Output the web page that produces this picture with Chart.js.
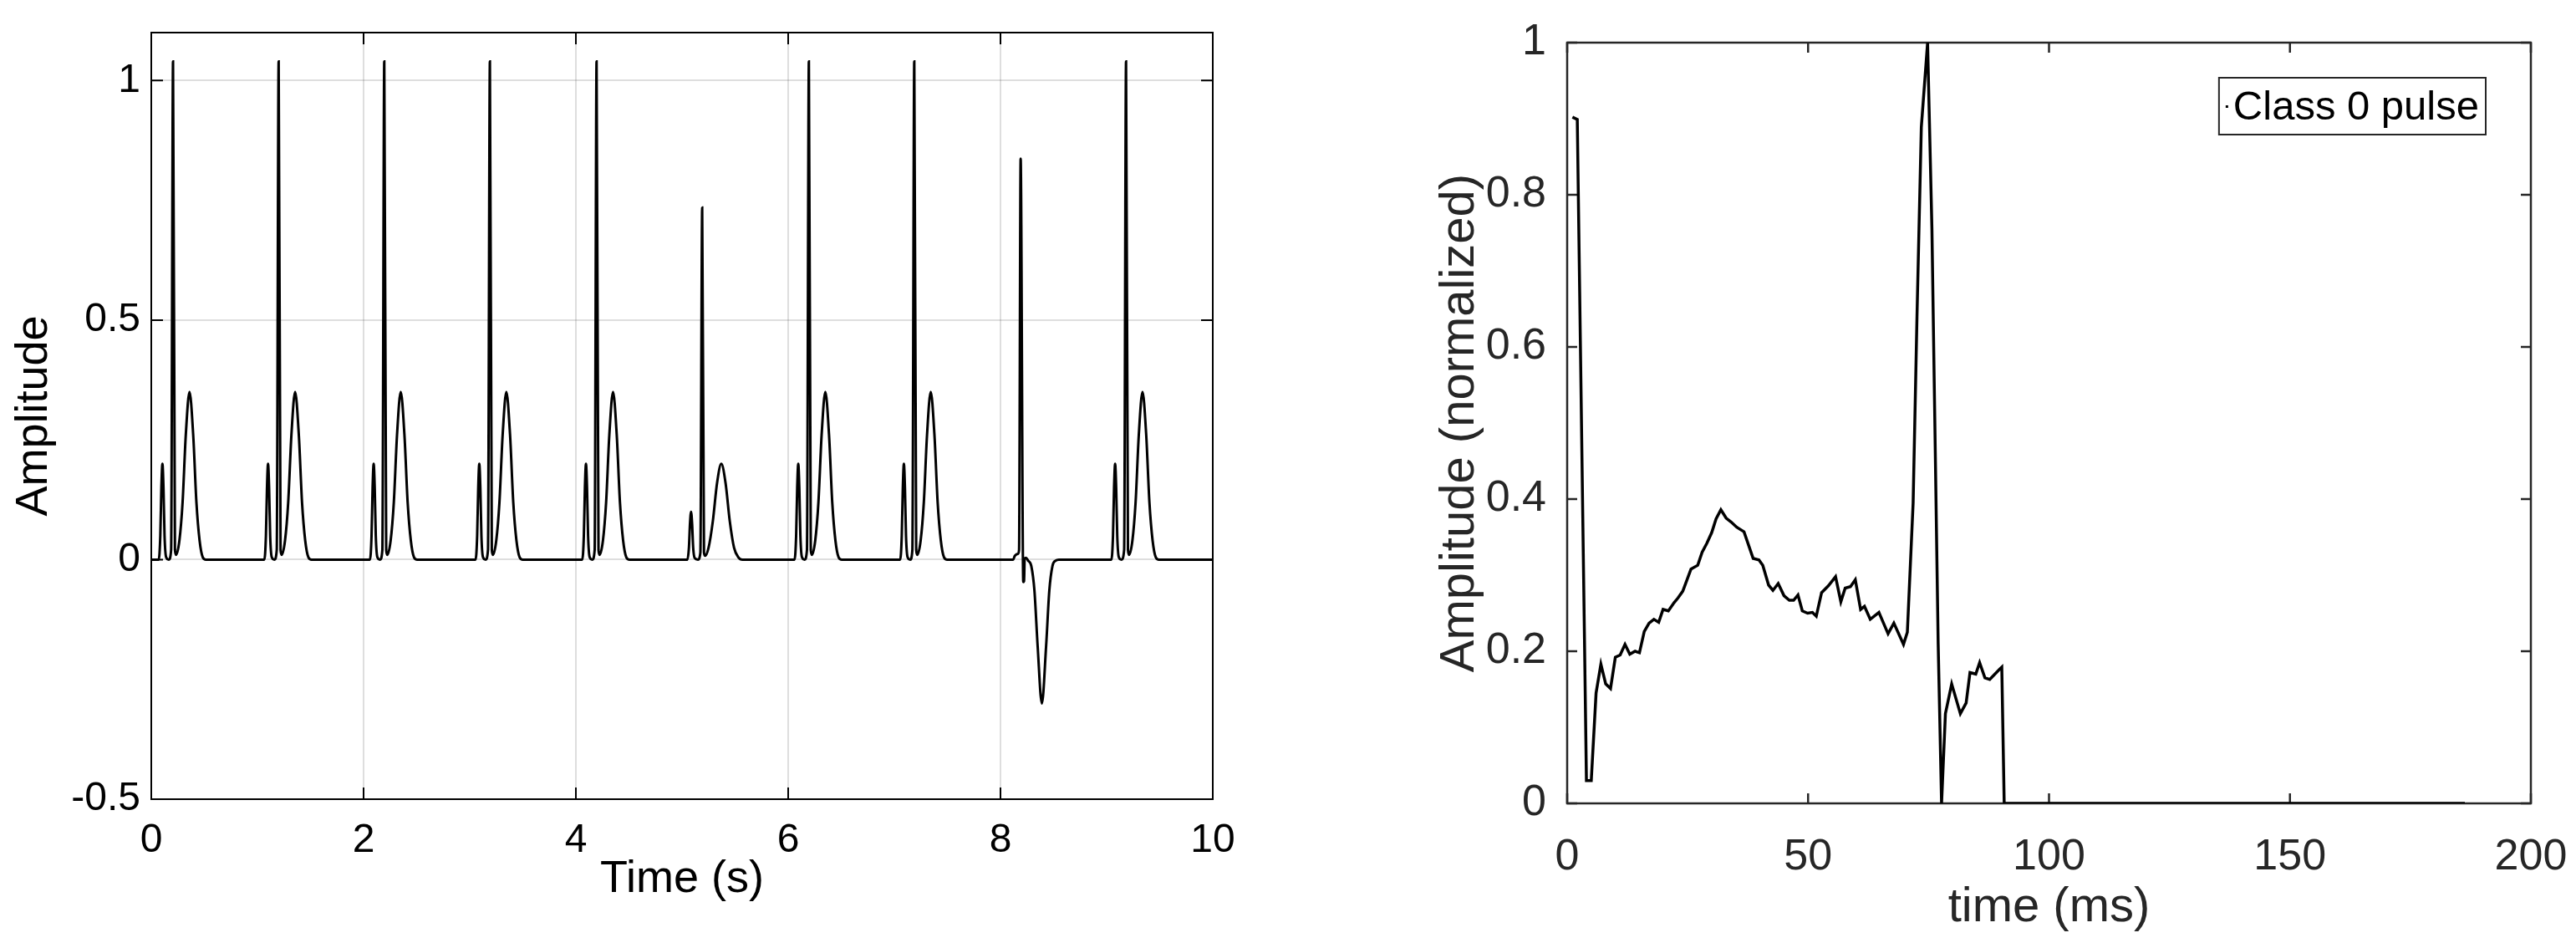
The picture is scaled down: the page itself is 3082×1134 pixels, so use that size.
<!DOCTYPE html>
<html>
<head>
<meta charset="utf-8">
<title>ECG pulses</title>
<script src="https://cdn.jsdelivr.net/npm/chart.js@4.4.1/dist/chart.umd.min.js"></script>
<style>
    html, body { margin: 0; padding: 0; background: #fff; }
    #leftBox { position: absolute; left: 0; top: 0; width: 1480px; height: 1134px; }
    #rightBox { position: absolute; left: 1700px; top: 0; width: 1382px; height: 1134px; }
</style>
</head>
<body>
<div id="leftBox"><canvas id="ecgChart"></canvas></div>
<div id="rightBox"><canvas id="pulseChart"></canvas></div>
<script>
// synthetic ECG trace (left), one line per beat
const ecgTime = [
    0, 0.07, 0.085, 0.095, 0.105, 0.115, 0.125, 0.14, 0.165, 0.187, 0.205, 0.223, 0.233, 0.265, 0.295, 0.325, 0.36, 0.395, 0.425, 0.455, 0.485, 0.515,
    1.065, 1.08, 1.09, 1.1, 1.11, 1.12, 1.135, 1.16, 1.182, 1.2, 1.218, 1.228, 1.26, 1.29, 1.32, 1.355, 1.39, 1.42, 1.45, 1.48, 1.51,
    2.06, 2.075, 2.085, 2.095, 2.105, 2.115, 2.13, 2.155, 2.177, 2.195, 2.213, 2.223, 2.255, 2.285, 2.315, 2.35, 2.385, 2.415, 2.445, 2.475, 2.505,
    3.055, 3.07, 3.08, 3.09, 3.1, 3.11, 3.125, 3.15, 3.172, 3.19, 3.208, 3.218, 3.25, 3.28, 3.31, 3.345, 3.38, 3.41, 3.44, 3.47, 3.5,
    4.06, 4.075, 4.085, 4.095, 4.105, 4.115, 4.13, 4.155, 4.177, 4.195, 4.213, 4.223, 4.255, 4.285, 4.315, 4.35, 4.385, 4.415, 4.445, 4.475, 4.505,
    5.05, 5.065, 5.075, 5.085, 5.095, 5.105, 5.12, 5.15, 5.173, 5.19, 5.207, 5.217, 5.25, 5.29, 5.33, 5.37, 5.41, 5.45, 5.49, 5.53, 5.57,
    6.06, 6.075, 6.085, 6.095, 6.105, 6.115, 6.13, 6.155, 6.177, 6.195, 6.213, 6.223, 6.255, 6.285, 6.315, 6.35, 6.385, 6.415, 6.445, 6.475, 6.505,
    7.055, 7.07, 7.08, 7.09, 7.1, 7.11, 7.125, 7.15, 7.17, 7.188, 7.206, 7.216, 7.248, 7.278, 7.308, 7.343, 7.378, 7.408, 7.438, 7.468, 7.498,
    8.12, 8.135, 8.165, 8.175, 8.19, 8.215, 8.222, 8.228, 8.24, 8.26, 8.29, 8.32, 8.35, 8.39, 8.43, 8.46, 8.49, 8.52, 8.55,
    9.045, 9.06, 9.07, 9.08, 9.09, 9.1, 9.115, 9.14, 9.165, 9.183, 9.201, 9.211, 9.243, 9.273, 9.303, 9.338, 9.373, 9.403, 9.433, 9.463, 9.493, 10
];
const ecgAmp = [
    0, 0, 0.05, 0.15, 0.2, 0.15, 0.05, 0.005, 0, 0.02, 1.04, 0.02, 0.01, 0.04, 0.12, 0.26, 0.35, 0.26, 0.12, 0.04, 0.005, 0,
    0, 0.05, 0.15, 0.2, 0.15, 0.05, 0.005, 0, 0.02, 1.04, 0.02, 0.01, 0.04, 0.12, 0.26, 0.35, 0.26, 0.12, 0.04, 0.005, 0,
    0, 0.05, 0.15, 0.2, 0.15, 0.05, 0.005, 0, 0.02, 1.04, 0.02, 0.01, 0.04, 0.12, 0.26, 0.35, 0.26, 0.12, 0.04, 0.005, 0,
    0, 0.05, 0.15, 0.2, 0.15, 0.05, 0.005, 0, 0.02, 1.04, 0.02, 0.01, 0.04, 0.12, 0.26, 0.35, 0.26, 0.12, 0.04, 0.005, 0,
    0, 0.05, 0.15, 0.2, 0.15, 0.05, 0.005, 0, 0.02, 1.04, 0.02, 0.01, 0.04, 0.12, 0.26, 0.35, 0.26, 0.12, 0.04, 0.005, 0,
    0, 0.025, 0.075, 0.1, 0.075, 0.025, 0.003, 0, 0.015, 0.735, 0.015, 0.008, 0.025, 0.08, 0.16, 0.2, 0.16, 0.08, 0.025, 0.005, 0,
    0, 0.05, 0.15, 0.2, 0.15, 0.05, 0.005, 0, 0.02, 1.04, 0.02, 0.01, 0.04, 0.12, 0.26, 0.35, 0.26, 0.12, 0.04, 0.005, 0,
    0, 0.05, 0.15, 0.2, 0.15, 0.05, 0.005, 0, 0.02, 1.04, 0.02, 0.01, 0.04, 0.12, 0.26, 0.35, 0.26, 0.12, 0.04, 0.005, 0,
    0, 0.008, 0.012, 0.02, 0.837, -0.047, -0.045, 0.002, 0.004, -0.002, -0.013, -0.065, -0.18, -0.3, -0.18, -0.065, -0.013, -0.002, 0,
    0, 0.05, 0.15, 0.2, 0.15, 0.05, 0.005, 0, 0.02, 1.04, 0.02, 0.01, 0.04, 0.12, 0.26, 0.35, 0.26, 0.12, 0.04, 0.005, 0, 0
];
const ecgXTicks = [0, 2, 4, 6, 8, 10];
const ecgYTicks = [-0.5, 0, 0.5, 1];

// single class 0 pulse (right)
const pulseMs = [
    1.1, 2.1, 4, 5, 6, 7, 8, 9, 10, 11, 12, 13, 14.1, 15, 16, 17, 18, 19, 19.9, 21,
    22.2, 23, 24, 25.7, 27.1, 28, 29, 30, 30.9, 31.9, 33, 34, 35.2, 36.7, 38.6, 39.8, 40.6, 41.8, 42.7, 43.8,
    45, 46.1, 47, 47.9, 48.8, 49.9, 50.9, 51.7, 52.8, 54.2, 55.7, 56.8, 57.7, 58.8, 59.8, 60.9, 61.7, 62.9, 64.7, 66.6,
    67.8, 69.8, 70.6, 71.8, 72.6, 73.5, 74.8, 75.7, 77, 77.7, 78.5, 79.8, 81.6, 82.8, 83.6, 84.8, 85.6, 86.7, 87.7, 89.7,
    90.2, 90.7, 186.3
];
const pulseAmp = [
    0.902, 0.899, 0.03, 0.03, 0.145, 0.183, 0.157, 0.151, 0.192, 0.195, 0.209, 0.196, 0.2, 0.198, 0.226, 0.237, 0.242, 0.238, 0.255, 0.253,
    0.264, 0.27, 0.279, 0.308, 0.313, 0.33, 0.342, 0.356, 0.374, 0.386, 0.375, 0.37, 0.363, 0.357, 0.322, 0.32, 0.313, 0.287, 0.28, 0.289,
    0.273, 0.267, 0.267, 0.274, 0.253, 0.25, 0.251, 0.246, 0.277, 0.286, 0.298, 0.265, 0.283, 0.285, 0.294, 0.255, 0.259, 0.242, 0.251, 0.223,
    0.237, 0.209, 0.225, 0.395, 0.64, 0.889, 1, 0.755, 0.209, 0, 0.118, 0.157, 0.118, 0.132, 0.172, 0.17, 0.185, 0.165, 0.163, 0.176,
    0.179, 0, 0
];
const pulseXTicks = [0, 50, 100, 150, 200];
const pulseYTicks = [0, 0.2, 0.4, 0.6, 0.8, 1];

const fontFamily = '"Liberation Sans", Arial, Helvetica, sans-serif';

// matlab style box with inward ticks on all four sides
const boxAxes = {
    id: 'boxAxes',
    beforeDatasetsDraw(chart, args, opts) {
        const { ctx, chartArea: a, scales } = chart;
        ctx.save();
        ctx.strokeStyle = opts.color;
        ctx.lineWidth = opts.lineWidth;
        ctx.beginPath();
        scales.x.ticks.forEach(t => {
            const px = scales.x.getPixelForValue(t.value);
            ctx.moveTo(px, a.bottom);
            ctx.lineTo(px, a.bottom - opts.tickLen);
            ctx.moveTo(px, a.top);
            ctx.lineTo(px, a.top + opts.tickLen);
        });
        scales.y.ticks.forEach(t => {
            const py = scales.y.getPixelForValue(t.value);
            ctx.moveTo(a.left, py);
            ctx.lineTo(a.left + opts.tickLen, py);
            ctx.moveTo(a.right, py);
            ctx.lineTo(a.right - opts.tickLen, py);
        });
        ctx.stroke();
        ctx.strokeRect(a.left, a.top, a.right - a.left, a.bottom - a.top);
        ctx.restore();
    }
};

// boxed legend in the upper right corner of the plot
const boxLegend = {
    id: 'boxLegend',
    afterDraw(chart, args, opts) {
        if (!opts.display) return;
        const { ctx, chartArea: a } = chart;
        const label = chart.data.datasets[0].label;
        ctx.save();
        ctx.font = opts.size + 'px ' + fontFamily;
        const w = ctx.measureText(label).width + opts.padLeft + opts.padRight;
        const x = a.right - opts.right - w;
        const y = a.top + opts.top;
        ctx.fillStyle = '#fff';
        ctx.fillRect(x, y, w, opts.height);
        ctx.strokeStyle = '#262626';
        ctx.lineWidth = 2;
        ctx.strokeRect(x, y, w, opts.height);
        ctx.fillStyle = '#000';
        ctx.fillRect(x + 8, y + opts.height / 2 - 1, 3, 3);
        ctx.textBaseline = 'middle';
        ctx.textAlign = 'left';
        ctx.fillText(label, x + opts.padLeft, y + opts.height / 2 + 2);
        ctx.restore();
    }
};

// fixed axis sizes, and no extra room for the end labels
const fixX = h => s => { s.height = h; s.paddingLeft = 0; s.paddingRight = 0; };
const fixY = w => s => { s.width = w; s.paddingTop = 0; s.paddingBottom = 0; };

// Biểu đồ trái: tín hiệu ECG 10 giây
new Chart(document.getElementById('ecgChart'), {
    type: 'line',
    data: {
        datasets: [{
            label: 'ECG',
            data: ecgTime.map((t, i) => ({ x: t, y: ecgAmp[i] })),
            borderColor: '#000',
            borderWidth: 3,
            pointRadius: 0,
            cubicInterpolationMode: 'monotone',
            fill: false
        }]
    },
    options: {
        responsive: true,
        maintainAspectRatio: false,
        animation: false,
        layout: { padding: { top: 39, right: 29, left: 0, bottom: 0 } },
        plugins: {
            legend: { display: false },
            tooltip: { enabled: false },
            boxAxes: { color: '#000', lineWidth: 2, tickLen: 14 }
        },
        scales: {
            x: {
                type: 'linear',
                min: 0,
                max: 10,
                afterBuildTicks: s => { s.ticks = ecgXTicks.map(v => ({ value: v })); },
                afterFit: fixX(178),
                grid: { color: 'rgba(0,0,0,0.13)', lineWidth: 2, drawTicks: false },
                border: { display: false },
                ticks: { color: '#000', font: { family: fontFamily, size: 48 }, padding: 21, maxRotation: 0, callback: v => String(v) },
                title: { display: true, text: 'Time (s)', color: '#000', font: { family: fontFamily, size: 54 }, padding: { top: 0, bottom: 49 } }
            },
            y: {
                type: 'linear',
                min: -0.5,
                max: 1.1,
                afterBuildTicks: s => { s.ticks = ecgYTicks.map(v => ({ value: v })); },
                afterFit: fixY(181),
                grid: { color: 'rgba(0,0,0,0.13)', lineWidth: 2, drawTicks: false },
                border: { display: false },
                ticks: { color: '#000', font: { family: fontFamily, size: 48 }, padding: 13, callback: v => String(v) },
                title: { display: true, text: 'Amplitude', color: '#000', font: { family: fontFamily, size: 54 }, padding: { top: 9, bottom: 0 } }
            }
        }
    },
    plugins: [boxAxes]
});

// Biểu đồ phải: một xung lớp 0
new Chart(document.getElementById('pulseChart'), {
    type: 'line',
    data: {
        datasets: [{
            label: 'Class 0 pulse',
            data: pulseMs.map((t, i) => ({ x: t, y: pulseAmp[i] })),
            borderColor: '#000',
            borderWidth: 3.5,
            pointRadius: 0,
            tension: 0,
            fill: false
        }]
    },
    options: {
        responsive: true,
        maintainAspectRatio: false,
        animation: false,
        layout: { padding: { top: 51, right: 54, left: 0, bottom: 0 } },
        plugins: {
            legend: { display: false },
            tooltip: { enabled: false },
            boxAxes: { color: '#262626', lineWidth: 2.5, tickLen: 12 },
            boxLegend: { display: true, size: 49, padLeft: 17, padRight: 8, right: 54, top: 42, height: 68 }
        },
        scales: {
            x: {
                type: 'linear',
                min: 0,
                max: 200,
                afterBuildTicks: s => { s.ticks = pulseXTicks.map(v => ({ value: v })); },
                afterFit: fixX(173),
                grid: { display: false },
                border: { display: false },
                ticks: { color: '#262626', font: { family: fontFamily, size: 52 }, padding: 25, maxRotation: 0, callback: v => String(v) },
                title: { display: true, text: 'time (ms)', color: '#262626', font: { family: fontFamily, size: 58 }, padding: { top: 0, bottom: 13 } }
            },
            y: {
                type: 'linear',
                min: 0,
                max: 1,
                afterBuildTicks: s => { s.ticks = pulseYTicks.map(v => ({ value: v })); },
                afterFit: fixY(175),
                grid: { display: false },
                border: { display: false },
                ticks: { color: '#262626', font: { family: fontFamily, size: 52 }, padding: 17, callback: v => String(v) },
                title: { display: true, text: 'Amplitude (normalized)', color: '#262626', font: { family: fontFamily, size: 58 }, padding: { top: 12, bottom: 0 } }
            }
        }
    },
    plugins: [boxAxes, boxLegend]
});
</script>
</body>
</html>
